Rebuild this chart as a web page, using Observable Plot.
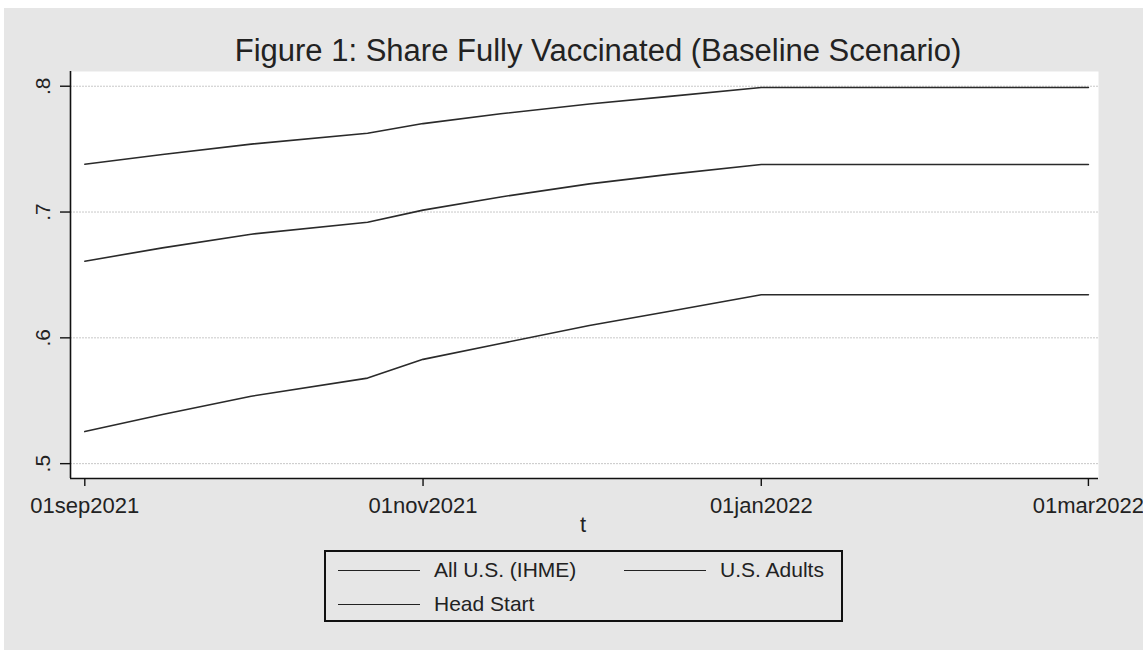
<!DOCTYPE html>
<html>
<head>
<meta charset="utf-8">
<script src="https://cdn.jsdelivr.net/npm/d3@7"></script>
<script src="https://cdn.jsdelivr.net/npm/@observablehq/plot@0.6"></script>
<style>
  html, body { margin: 0; padding: 0; width: 1143px; height: 650px; background: #ffffff; overflow: hidden; }
  #bg { position: absolute; left: 4px; top: 8px; width: 1139px; height: 642px; background: #e6e6e6; }
  #title { position: absolute; left: 98px; width: 1000px; top: 33px; text-align: center;
           font-family: "Liberation Sans", Arial, sans-serif; font-size: 31px; line-height: 36px; color: #222; }
  #chart { position: absolute; left: 0; top: 60px; }
  #xlabel { position: absolute; left: 533px; width: 100px; top: 512px; text-align: center;
            font-family: "Liberation Sans", Arial, sans-serif; font-size: 22px; line-height: 26px; color: #222; }
  #legend { position: absolute; left: 324px; top: 550px; width: 515px; height: 68px; border: 2px solid #111;
            font-family: "Liberation Sans", Arial, sans-serif; font-size: 21px; color: #222; }
  .item { position: absolute; height: 24px; line-height: 24px; }
  .item .sw { position: absolute; left: 0; top: 12px; width: 82px; border-top: 1.3px solid #222; }
  .item .lb { position: absolute; left: 96px; top: 0; white-space: nowrap; }
</style>
</head>
<body>
<div id="bg"></div>
<div id="title">Figure 1: Share Fully Vaccinated (Baseline Scenario)</div>
<div id="chart"></div>
<div id="xlabel">t</div>
<div id="legend"></div>
<script>
// ---- data ----
const dates = ["2021-09-01","2021-09-15","2021-10-01","2021-10-22","2021-11-01","2021-11-15","2021-12-01","2021-12-15","2022-01-01","2022-03-01"];
const allUS     = [0.5255, 0.5390, 0.5536, 0.5680, 0.5829, 0.5955, 0.6098, 0.6208, 0.6342, 0.6342];
const usAdults  = [0.6609, 0.6715, 0.6824, 0.6919, 0.7015, 0.7120, 0.7224, 0.7297, 0.7378, 0.7378];
const headStart = [0.7380, 0.7457, 0.7540, 0.7626, 0.7703, 0.7781, 0.7859, 0.7917, 0.7990, 0.7990];
const seriesNames = ["All U.S. (IHME)", "U.S. Adults", "Head Start"];
const xTickDates = ["2021-09-01","2021-11-01","2022-01-01","2022-03-01"];
const xTickLabels = ["01sep2021","01nov2021","01jan2022","01mar2022"];
const yTicks = [0.5, 0.6, 0.7, 0.8];
const yTickLabels = [".5", ".6", ".7", ".8"];

// ---- build table ----
const parse = d3.utcParse("%Y-%m-%d");
const seriesValues = [allUS, usAdults, headStart];
const rows = [];
seriesNames.forEach((name, i) => {
  dates.forEach((d, j) => rows.push({series: name, t: parse(d), v: seriesValues[i][j]}));
});
const xTicks = xTickDates.map(parse);
const xLabelMap = new Map(xTickDates.map((d, i) => [+parse(d), xTickLabels[i]]));
const yLabelMap = new Map(yTicks.map((d, i) => [d, yTickLabels[i]]));

const day = 864e5;
const xDomain = [new Date(+parse("2021-09-01") - 2.58 * day), new Date(+parse("2022-03-01") + 1.82 * day)];
const yDomain = [0.4882, 0.8117];

const W = 1143, H = 480;
const chart = Plot.plot({
  width: W,
  height: H,
  marginLeft: 70,
  marginRight: 45,
  marginTop: 11,
  marginBottom: 62,
  style: { fontFamily: "Liberation Sans, Arial, sans-serif", fontSize: "22px", background: "transparent", color: "#222", overflow: "visible" },
  x: { type: "utc", domain: xDomain },
  y: { domain: yDomain },
  marks: [
    Plot.frame({ fill: "white", stroke: "none" }),
    Plot.gridY(yTicks, { stroke: "#c8c8c8", strokeOpacity: 1, strokeWidth: 1, strokeDasharray: "2,1" }),
    Plot.line(rows, { x: "t", y: "v", z: "series", stroke: "#2a2a2a", strokeWidth: 1.6 }),
    Plot.ruleX([xDomain[0]], { stroke: "#111", strokeWidth: 1.6 }),
    Plot.ruleY([yDomain[0]], { stroke: "#111", strokeWidth: 1.6 }),
    Plot.axisX({ ticks: xTicks, tickSize: 8, tickPadding: 11, tickFormat: d => xLabelMap.get(+d), fontSize: 22, stroke: "#111", strokeWidth: 1.4, label: null }),
    Plot.axisY({ ticks: yTicks, tickSize: 10, tickFormat: () => "", stroke: "#111", strokeWidth: 1.4, label: null }),
    Plot.text(yTicks, { y: d => d, text: d => yLabelMap.get(d), frameAnchor: "left", dx: -27, rotate: -90, textAnchor: "middle", fontSize: 21, fill: "#222" })
  ]
});
document.getElementById("chart").appendChild(chart);

// ---- legend ----
const legend = document.getElementById("legend");
const pos = [{left: 12, top: 6}, {left: 298, top: 6}, {left: 12, top: 40}];
seriesNames.forEach((name, i) => {
  const it = document.createElement("div");
  it.className = "item";
  it.style.left = pos[i].left + "px";
  it.style.top = pos[i].top + "px";
  it.innerHTML = '<div class="sw"></div><div class="lb"></div>';
  it.querySelector(".lb").textContent = name;
  legend.appendChild(it);
});
</script>
</body>
</html>
